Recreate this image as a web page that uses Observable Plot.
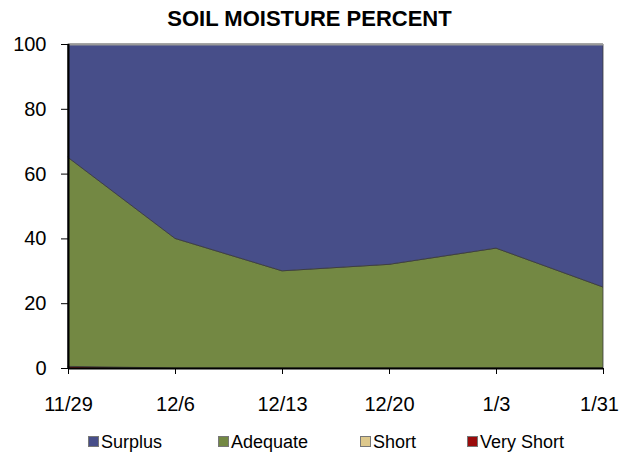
<!DOCTYPE html>
<html>
<head>
<meta charset="utf-8">
<script src="https://cdn.jsdelivr.net/npm/d3@7"></script>
<script src="https://cdn.jsdelivr.net/npm/@observablehq/plot@0.6"></script>
<style>
  body { margin: 0; background: #fff; font-family: "Liberation Sans", Arial, sans-serif; }
  #wrap { position: relative; width: 619px; height: 454px; }
  #title { position: absolute; left: 0; top: 7px; width: 619px; text-align: center; font-weight: bold; font-size: 22px; line-height: 24px; }
  #chart { position: absolute; left: 0; top: 34px; }
  #legend { position: absolute; left: 0; top: 431px; width: 619px; height: 22px; font-size: 18px; }
  .item { position: absolute; top: 0; line-height: 22px; white-space: nowrap; }
  .sw { display: inline-block; width: 9px; height: 9px; border: 1px solid #777; margin-right: 2px; vertical-align: 1px; }
</style>
</head>
<body>
<div id="wrap">
  <div id="title">SOIL MOISTURE PERCENT</div>
  <div id="chart"></div>
  <div id="legend"></div>
</div>
<script>
const dates = ["11/29", "12/6", "12/13", "12/20", "1/3", "1/31"];
const seriesNames = ["Very Short", "Short", "Adequate", "Surplus"];
const veryShort = [0.5, 0, 0, 0, 0, 0];
const short = [0, 0, 0, 0, 0, 0];
const adequate = [64.5, 40, 30, 32, 37, 25];
const surplus = [35, 60, 70, 68, 63, 75];
const yTicks = [0, 20, 40, 60, 80, 100];
const colors = ["#9a0b0b", "#ddc88c", "#738843", "#474e89"];
const legendOrder = ["Surplus", "Adequate", "Short", "Very Short"];

const seriesValues = [veryShort, short, adequate, surplus];
const rows = [];
seriesNames.forEach((s, i) => dates.forEach((d, j) => rows.push({date: d, series: s, value: seriesValues[i][j]})));
const lastDate = dates[dates.length - 1];

const chart = Plot.plot({
  width: 619,
  height: 392,
  marginLeft: 68,
  marginRight: 16,
  marginTop: 10,
  marginBottom: 58,
  style: {fontFamily: "'Liberation Sans', Arial, sans-serif", fontSize: "20px", color: "#000", background: "#fff"},
  x: {type: "point", domain: dates, padding: 0, label: null},
  y: {domain: [0, 100], label: null},
  color: {domain: seriesNames, range: colors},
  marks: [
    Plot.areaY(rows, {x: "date", y: "value", fill: "series", z: "series", stroke: "#3a3a3a", strokeWidth: 0.8}),
    Plot.ruleY([100], {stroke: "#9a9a9a", strokeWidth: 2}),
    Plot.ruleX([dates[0]], {y1: 0, y2: 100, stroke: "#000", strokeWidth: 2}),
    Plot.ruleY([0], {stroke: "#000", strokeWidth: 2}),
    Plot.axisY(yTicks, {tickSize: 7, tickPadding: 15, fontSize: 20, label: null}),
    Plot.axisX(dates, {tickSize: 6, tickPadding: 22, fontSize: 20, label: null, tickFormat: (d) => d === lastDate ? "" : d}),
    Plot.text([lastDate], {x: (d) => d, frameAnchor: "bottom", lineAnchor: "top", dy: 28, dx: -4, fontSize: 20, fill: "#000"})
  ]
});
document.getElementById("chart").appendChild(chart);

const legendX = [88, 218, 360, 467];
const legend = document.getElementById("legend");
legendOrder.forEach((name, i) => {
  const it = document.createElement("div");
  it.className = "item";
  it.style.left = legendX[i] + "px";
  const sw = document.createElement("span");
  sw.className = "sw";
  sw.style.background = colors[seriesNames.indexOf(name)];
  it.appendChild(sw);
  it.appendChild(document.createTextNode(name));
  legend.appendChild(it);
});
</script>
</body>
</html>
